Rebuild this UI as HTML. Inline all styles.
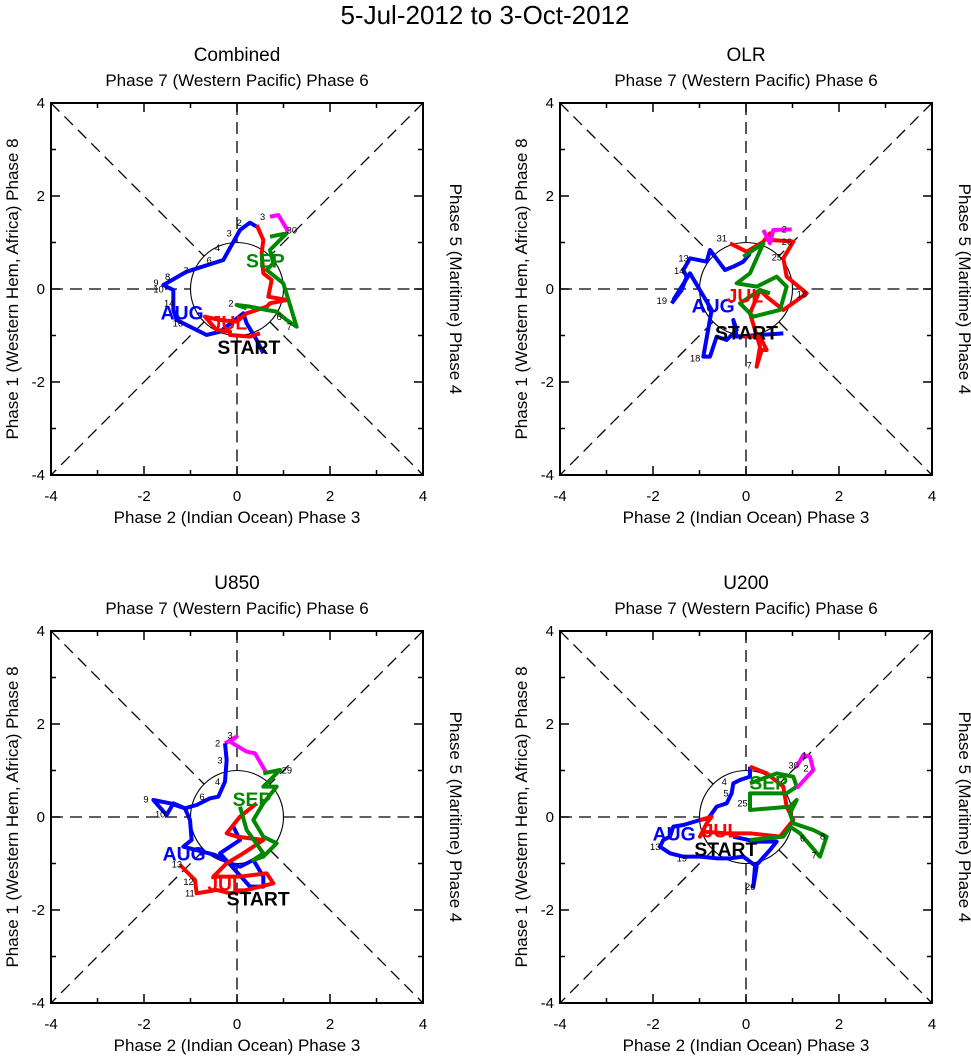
<!DOCTYPE html>
<html><head><meta charset="utf-8"><style>body{margin:0;background:#fff}svg{display:block}text{font-family:"Liberation Sans",sans-serif}</style></head><body>
<svg width="971" height="1056" viewBox="0 0 971 1056" xmlns="http://www.w3.org/2000/svg">
<defs>
<g id="frame">
 <g stroke="#000" stroke-width="1.3" stroke-dasharray="12,7" fill="none">
  <line x1="0" y1="-186" x2="0" y2="-46.5"/><line x1="0" y1="46.5" x2="0" y2="186"/>
  <line x1="-186" y1="0" x2="-46.5" y2="0"/><line x1="46.5" y1="0" x2="186" y2="0"/>
  <line x1="-186" y1="-186" x2="-33" y2="-33"/><line x1="33" y1="33" x2="186" y2="186"/>
  <line x1="186" y1="-186" x2="33" y2="-33"/><line x1="-33" y1="33" x2="-186" y2="186"/>
 </g>
 <circle r="46.5" fill="none" stroke="#000" stroke-width="1.1"/>
 <rect x="-186" y="-186" width="372" height="372" fill="none" stroke="#000" stroke-width="2"/>
 <path stroke="#000" stroke-width="1.5" d="M-93,186v-9M0,186v-9M93,186v-9M-139.5,186v-5M-46.5,186v-5M46.5,186v-5M139.5,186v-5
 M-93,-186v9M0,-186v9M93,-186v9M-139.5,-186v5M-46.5,-186v5M46.5,-186v5M139.5,-186v5
 M-186,-93h9M-186,0h9M-186,93h9M-186,-139.5h5M-186,-46.5h5M-186,46.5h5M-186,139.5h5
 M186,-93h-9M186,0h-9M186,93h-9M186,-139.5h-5M186,-46.5h-5M186,46.5h-5M186,139.5h-5"/>
 <g font-size="15" text-anchor="middle">
  <text x="-186" y="212">-4</text><text x="-93" y="212">-2</text><text x="0" y="212">0</text><text x="93" y="212">2</text><text x="186" y="212">4</text>
 </g>
 <g font-size="15" text-anchor="end">
  <text x="-192" y="-181">4</text><text x="-192" y="-88">2</text><text x="-192" y="5">0</text><text x="-192" y="98">-2</text><text x="-192" y="191">-4</text>
 </g>
 <text x="0" y="234" font-size="17" text-anchor="middle">Phase 2 (Indian Ocean) Phase 3</text>
 <text x="0" y="-203" font-size="17" text-anchor="middle">Phase 7 (Western Pacific) Phase 6</text>
 <text transform="translate(-219,0) rotate(-90)" font-size="17" text-anchor="middle">Phase 1 (Western Hem, Africa) Phase 8</text>
 <text transform="translate(213,0) rotate(90)" font-size="17" text-anchor="middle">Phase 5 (Maritime) Phase 4</text>
</g>
</defs>
<text x="485" y="24" font-size="26" text-anchor="middle">5-Jul-2012 to 3-Oct-2012</text>

<g transform="translate(237,289)"><use href="#frame"/><text x="0" y="-228" font-size="19" text-anchor="middle">Combined</text></g>
<g transform="translate(746,289)"><use href="#frame"/><text x="0" y="-228" font-size="19" text-anchor="middle">OLR</text></g>
<g transform="translate(237,817)"><use href="#frame"/><text x="0" y="-228" font-size="19" text-anchor="middle">U850</text></g>
<g transform="translate(746,817)"><use href="#frame"/><text x="0" y="-228" font-size="19" text-anchor="middle">U200</text></g>

<!-- Panel 1 traces -->
<g transform="translate(140,200) scale(0.3333)" fill="none" stroke-width="12" stroke-linejoin="round">
 <polyline stroke="#00f" points="370,460 350,420 320,370 310,340 240,395 200,405 150,380 110,360 100,330 100,270 70,255 140,215 250,180 300,90 330,68 350,80"/>
 <polyline stroke="#f00" points="350,75 370,120 365,160 370,220 395,240 385,290 440,300 390,310 380,320 320,340 290,365 240,360 195,350 230,390 270,395 270,405 330,410 360,400"/>
 <polyline stroke="#080" points="390,110 440,100 390,150 400,190 380,210 430,250 470,380 440,360 410,335 380,330 330,320 290,315 320,325"/>
 <polyline stroke="#f0f" points="390,50 415,45 430,70 445,95"/>
 <g stroke="none" font-weight="bold" font-size="58">
  <text x="62" y="358" fill="#00f">AUG</text><text x="212" y="388" fill="#f00">JUL</text><text x="318" y="202" fill="#080">SEP</text><text x="232" y="462" fill="#000">START</text>
 </g>
 <g stroke="none" font-size="28" fill="#000"><text x="40" y="258">9</text><text x="40" y="278">10</text><text x="72" y="320">14</text><text x="98" y="380">16</text><text x="260" y="110">3</text><text x="290" y="78">2</text><text x="225" y="153">4</text><text x="200" y="190">6</text><text x="130" y="222">7</text><text x="75" y="240">8</text><text x="265" y="320">2</text><text x="440" y="390">7</text><text x="410" y="360">6</text><text x="440" y="100">30</text><text x="360" y="60">3</text></g>
</g>

<!-- Panel 2 traces -->
<g transform="translate(650,210) scale(0.3333)" fill="none" stroke-width="12" stroke-linejoin="round">
 <polyline stroke="#00f" points="65,280 95,240 110,200 100,180 120,145 170,155 180,120 225,180 250,170 280,155 300,130"/>
 <polyline stroke="#00f" points="70,270 120,190 185,300 160,440 180,440 200,380 230,390 260,360 250,330 260,380 400,370"/>
 <polyline stroke="#f00" points="240,100 290,125 340,95 360,70 365,90 430,95 400,145 410,200 470,250 400,300 350,260 330,240 300,310 330,410 320,470 335,420 350,420 330,380 280,380"/>
 <polyline stroke="#080" points="280,140 340,100 300,190 260,220 320,230 380,200 410,230 390,300 310,320 270,280 330,240 360,250"/>
 <polyline stroke="#f0f" points="340,60 360,100 370,60 425,58"/>
 <g stroke="none" font-weight="bold" font-size="58">
  <text x="125" y="308" fill="#00f">AUG</text><text x="230" y="278" fill="#f00">JUL</text><text x="195" y="388" fill="#000">START</text>
 </g>
 <g stroke="none" font-size="28" fill="#000"><text x="20" y="282">19</text><text x="85" y="155">13</text><text x="72" y="192">14</text><text x="120" y="455">18</text><text x="440" y="262">18</text><text x="290" y="475">7</text><text x="200" y="95">31</text><text x="395" y="68">2</text><text x="395" y="105">26</text><text x="365" y="152">25</text></g>
</g>

<!-- Panel 3 traces -->
<g transform="translate(130,720) scale(0.3333)" fill="none" stroke-width="12" stroke-linejoin="round">
 <polyline stroke="#f0f" points="285,70 320,50 300,65 350,95 375,100 410,160"/>
 <polyline stroke="#00f" points="285,70 290,120 285,185 265,230 240,235 200,255 165,265 120,250 70,240 110,285 130,250 165,265 180,300 185,360 160,380 255,405 300,430 330,440 370,420 400,470 400,500 360,500 270,400 330,360 310,320"/>
 <polyline stroke="#f00" points="150,435 195,480 200,520 260,510 300,520 350,510 390,500 430,490 410,460 330,470 250,470 290,430 340,400 400,360 320,350 290,340 330,290 380,250"/>
 <polyline stroke="#080" points="400,160 450,150 400,200 440,200 400,250 370,300 400,350 440,370 400,410 370,420 400,400 350,330 330,260"/>
 <g stroke="none" font-weight="bold" font-size="58">
  <text x="98" y="422" fill="#00f">AUG</text><text x="232" y="512" fill="#f00">JUL</text><text x="308" y="258" fill="#080">SEP</text><text x="290" y="557" fill="#000">START</text>
 </g>
 <g stroke="none" font-size="28" fill="#000"><text x="40" y="248">9</text><text x="75" y="292">10</text><text x="125" y="443">13</text><text x="160" y="495">12</text><text x="165" y="530">11</text><text x="255" y="80">2</text><text x="292" y="55">3</text><text x="262" y="130">3</text><text x="255" y="195">4</text><text x="208" y="240">6</text><text x="455" y="160">29</text></g>
</g>

<!-- Panel 4 traces -->
<g transform="translate(650,740) scale(0.3333)" fill="none" stroke-width="12" stroke-linejoin="round">
 <polyline stroke="#00f" points="300,80 300,110 270,120 250,130 245,160 230,190 200,200 175,235 150,240 100,255 70,260 60,290 40,300 30,320 60,340 100,350 150,350 200,355 240,355 280,350 320,380 310,440 315,380 360,330 380,305 320,305 250,290"/>
 <polyline stroke="#f00" points="300,80 350,100 400,140 410,200 430,240 390,290 300,280 230,280 160,275 150,290 170,250 185,230 150,240"/>
 <polyline stroke="#080" points="300,130 380,100 430,110 440,140 410,160 300,160 300,210 420,200 440,180 420,220 430,250 490,270 530,290 510,350 450,280 420,260 400,290 300,300"/>
 <polyline stroke="#f0f" points="440,145 490,90 480,50 460,45 440,80"/>
 <g stroke="none" font-weight="bold" font-size="58">
  <text x="8" y="302" fill="#00f">AUG</text><text x="158" y="292" fill="#f00">JUL</text><text x="298" y="148" fill="#080">SEP</text><text x="133" y="348" fill="#000">START</text>
 </g>
 <g stroke="none" font-size="28" fill="#000"><text x="0" y="330">13</text><text x="80" y="365">19</text><text x="285" y="450">26</text><text x="485" y="355">7</text><text x="510" y="298">8</text><text x="450" y="305">6</text><text x="456" y="55">1</text><text x="460" y="95">2</text><text x="215" y="135">4</text><text x="220" y="170">5</text><text x="262" y="200">25</text><text x="415" y="85">30</text></g>
</g>
</svg>
</body></html>
